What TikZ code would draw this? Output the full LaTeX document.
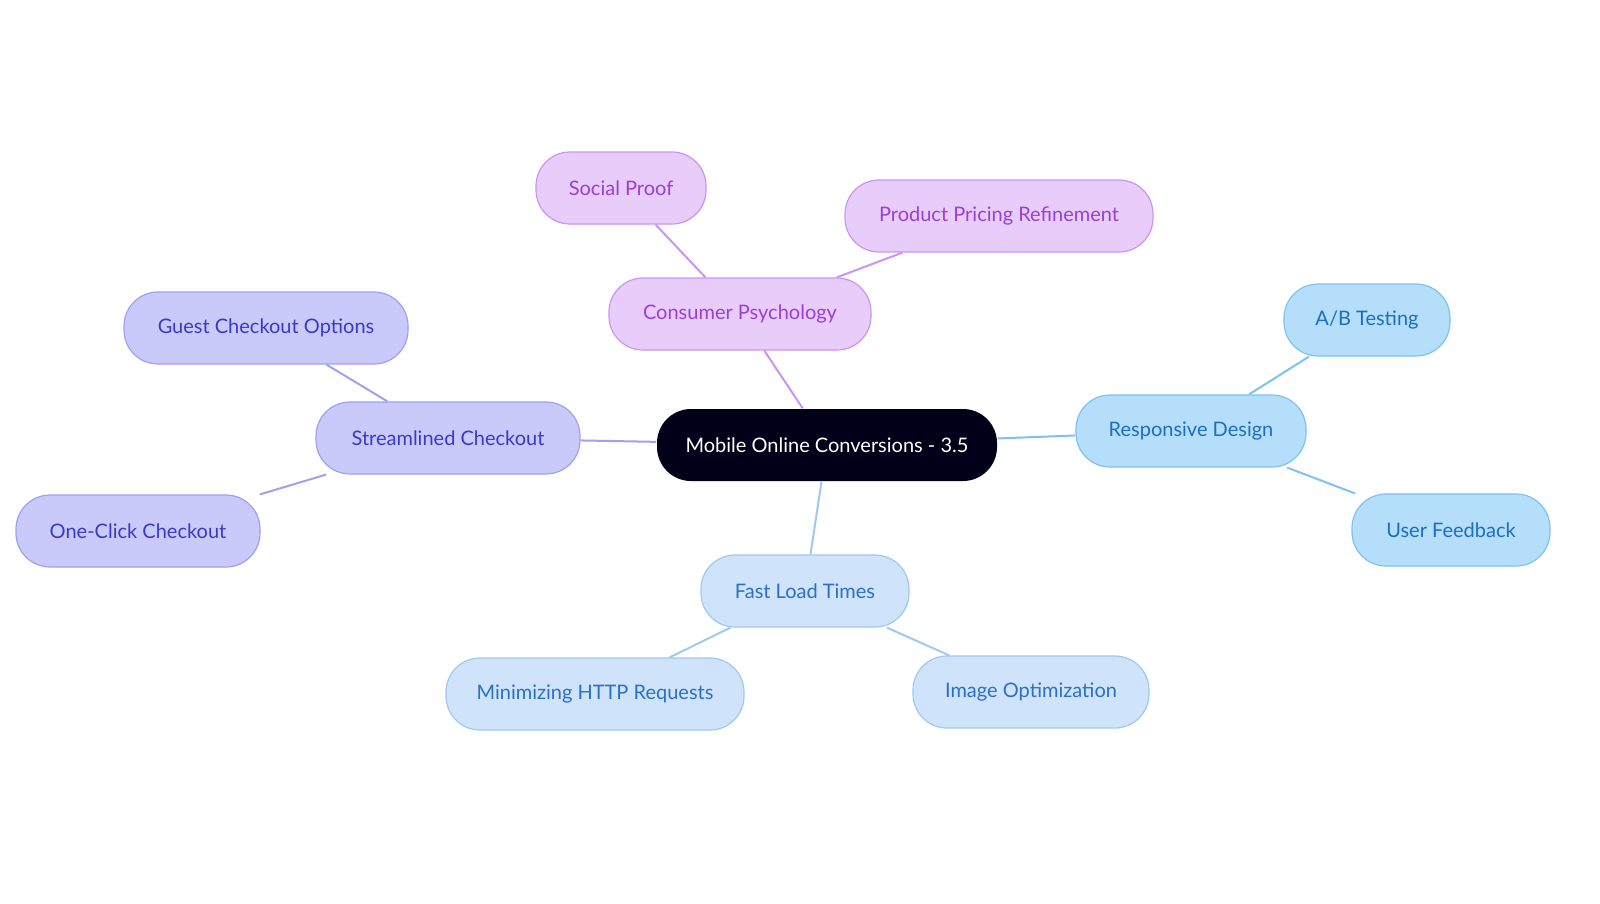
\documentclass[tikz,border=0pt]{standalone}
\usepackage{fontspec}
\setmainfont{Lato}
\definecolor{pf}{HTML}{E8CCFA}\definecolor{pd}{HTML}{C995F2}\definecolor{pt}{HTML}{9B3FD6}
\definecolor{vf}{HTML}{C9C9FA}\definecolor{vd}{HTML}{A0A0F0}\definecolor{vt}{HTML}{3A3AC8}
\definecolor{bf}{HTML}{B5DEFA}\definecolor{bd}{HTML}{7DC2F0}\definecolor{bt}{HTML}{1A6FC0}
\definecolor{cf}{HTML}{CFE3FA}\definecolor{cd}{HTML}{A0C8F0}\definecolor{ct}{HTML}{2A70C8}
\begin{document}
\begin{tikzpicture}[x=1pt,y=-1pt,
 nd/.style={rounded corners=34pt,minimum height=72pt,inner sep=0pt,font=\fontsize{20}{24}\selectfont,line width=1.2pt},
 P/.style={nd,fill=pf,draw=pd,text=pt}, V/.style={nd,fill=vf,draw=vd,text=vt},
 B/.style={nd,fill=bf,draw=bd,text=bt}, C/.style={nd,fill=cf,draw=cd,text=ct},
 e/.style={line width=2pt}]
\useasboundingbox (0,0) rectangle (1600,903);
\node[nd,fill=black!90!blue,draw=none,text=white,minimum width=340pt] (m) at (827,445) {Mobile Online Conversions - 3.5};
\node[P,minimum width=262pt] (cp) at (740,314) {Consumer Psychology};
\node[P,minimum width=170pt] (sp) at (621,188) {Social Proof};
\node[P,minimum width=308pt] (pp) at (999,216) {Product Pricing Refinement};
\node[V,minimum width=264pt] (sc) at (448,438) {Streamlined Checkout};
\node[V,minimum width=284pt] (gc) at (266,328) {Guest Checkout Options};
\node[V,minimum width=244pt] (oc) at (138,531) {One-Click Checkout};
\node[B,minimum width=230pt] (rd) at (1191,431) {Responsive Design};
\node[B,minimum width=166pt] (ab) at (1367,320) {A/B Testing};
\node[B,minimum width=198pt] (uf) at (1451,530) {User Feedback};
\node[C,minimum width=208pt] (fl) at (805,591) {Fast Load Times};
\node[C,minimum width=298pt] (mh) at (595,694) {Minimizing HTTP Requests};
\node[C,minimum width=236pt] (io) at (1031,692) {Image Optimization};
\draw[e,pd] (m) -- (cp); \draw[e,pd] (cp) -- (sp); \draw[e,pd] (cp) -- (pp);
\draw[e,vd] (m) -- (sc); \draw[e,vd] (sc) -- (gc); \draw[e,vd] (sc) -- (oc);
\draw[e,bd] (m) -- (rd); \draw[e,bd] (rd) -- (ab); \draw[e,bd] (rd) -- (uf);
\draw[e,cd] (m) -- (fl); \draw[e,cd] (fl) -- (mh); \draw[e,cd] (fl) -- (io);
\end{tikzpicture}
\end{document}
